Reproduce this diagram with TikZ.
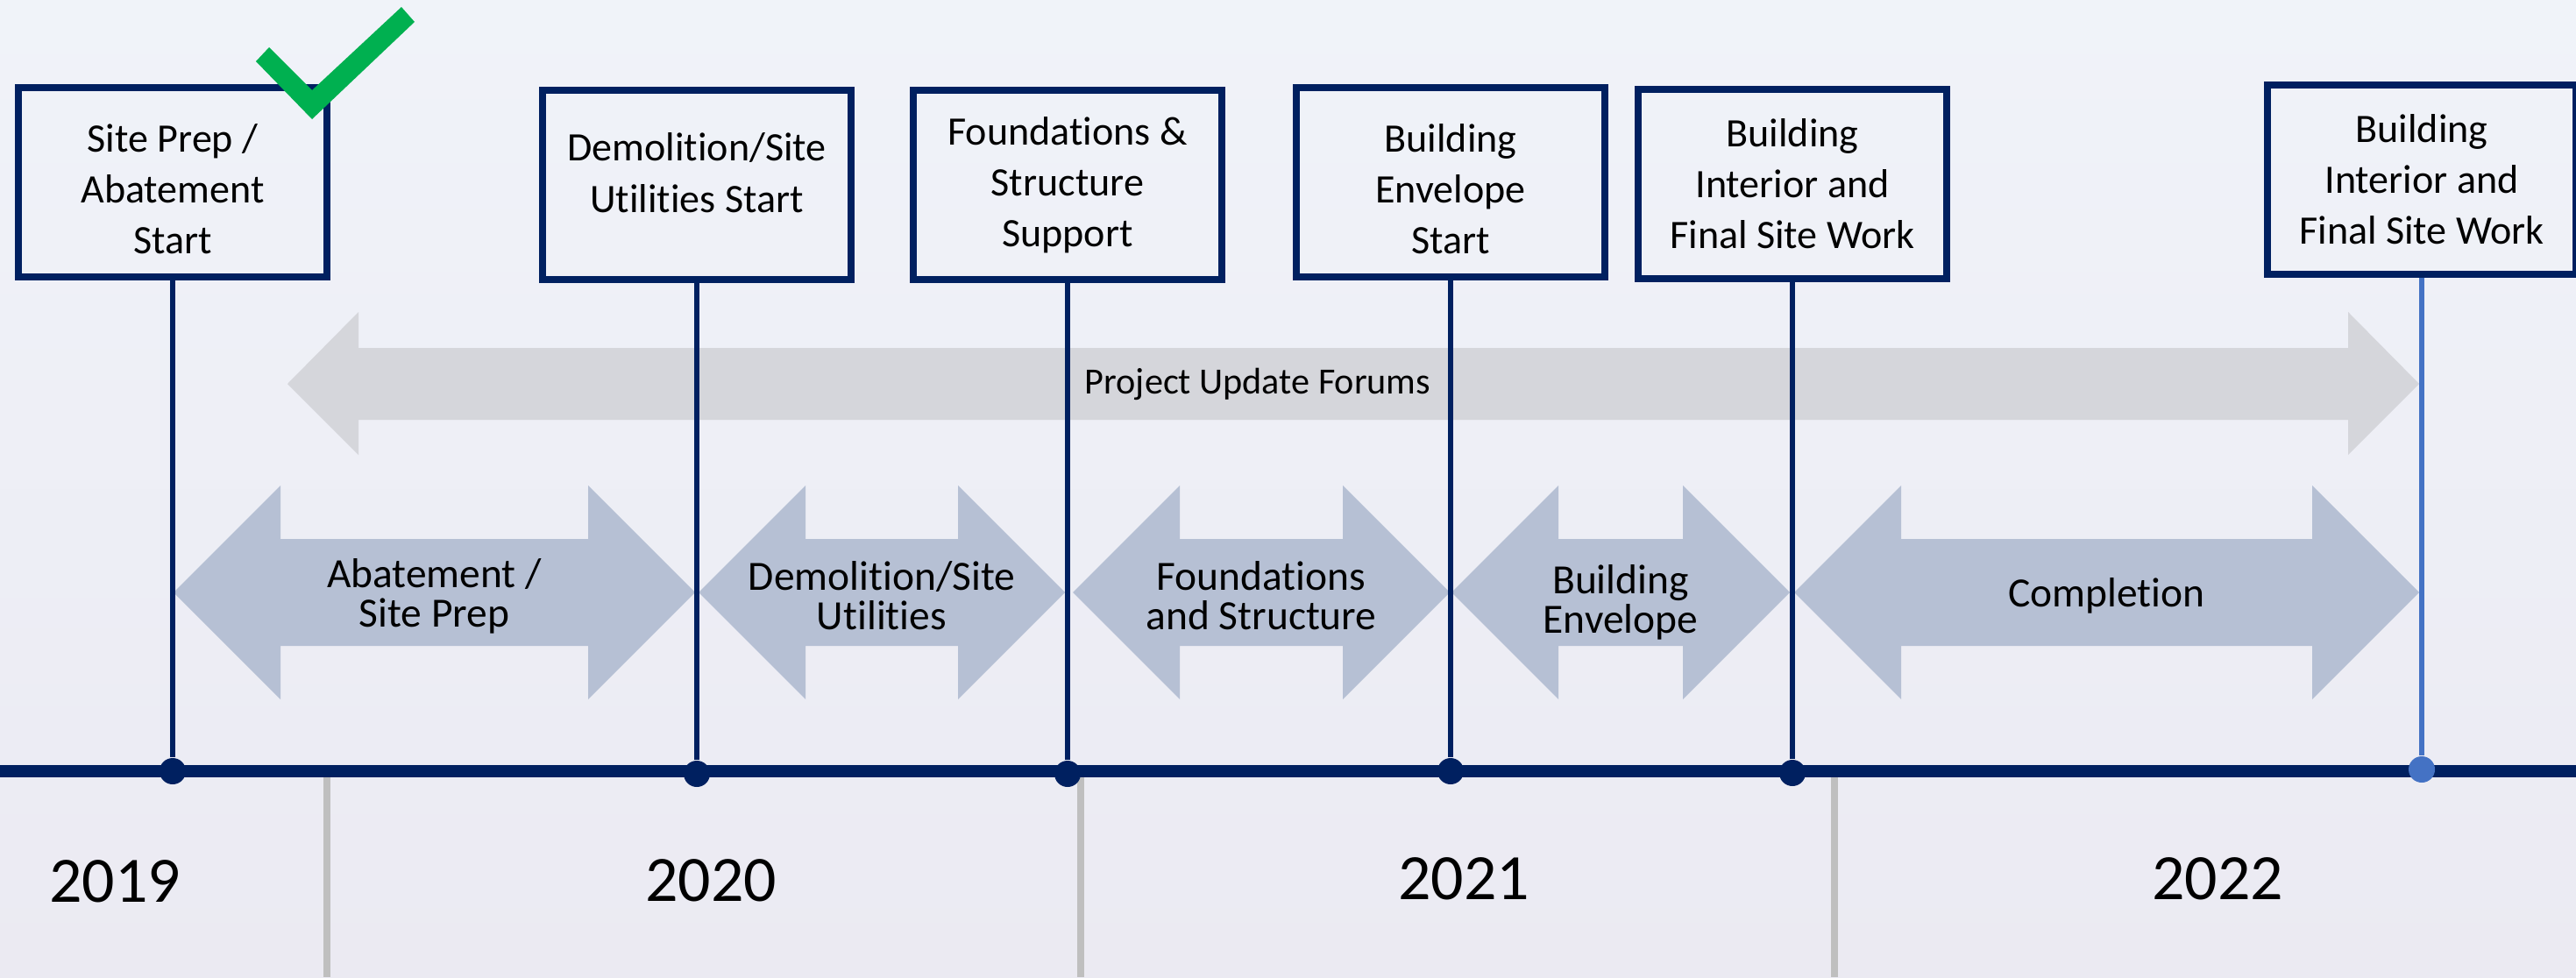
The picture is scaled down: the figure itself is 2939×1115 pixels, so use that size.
\documentclass[tikz,border=0pt]{standalone}
\usepackage{fontspec}
\setmainfont{Carlito}[Ligatures={NoCommon}]
\usetikzlibrary{positioning}
\definecolor{navy}{HTML}{002060}
\definecolor{lightblue}{HTML}{4472C4}
\definecolor{checkgreen}{HTML}{00B050}
\definecolor{phasecol}{RGB}{182,192,212}
\definecolor{forumcol}{RGB}{213,214,219}
\definecolor{divgray}{HTML}{BFBFBF}
\definecolor{bgtop}{RGB}{240,243,249}
\definecolor{bgbot}{RGB}{235,234,242}

\begin{document}
\begin{tikzpicture}[x=0.01cm, y=-0.01cm,
    milestone/.style={draw=navy, line width=0.08cm, minimum width=3.52cm, minimum height=2.15cm,
        inner sep=0pt, align=center, font=\fontsize{13.1pt}{16.5pt}\selectfont},
    stem/.style={navy, line width=0.06cm},
    dot/.style={circle, fill=navy, minimum size=0.3cm, inner sep=0pt},
    phasetext/.style={align=center, inner sep=0pt, font=\fontsize{13.5pt}{12.8pt}\selectfont},
    forumtext/.style={inner sep=0pt, font=\fontsize{12pt}{14pt}\selectfont},
    yearlbl/.style={inner sep=0pt, font=\fontsize{21pt}{25pt}\selectfont},
    divider/.style={divgray, line width=0.08cm}]
        % sfondo
        \useasboundingbox (0,0) rectangle (2939,1115);
        \shade[top color=bgtop, bottom color=bgbot] (0,0) rectangle (2939,1115);

        % freccia forum
        \fill[forumcol] (328,438) -- (409,356) -- (409,397) -- (2679,397) -- (2679,356) -- (2760,438)
            -- (2679,519) -- (2679,479) -- (409,479) -- (409,519) -- cycle;
        \node[forumtext] (forum) at (1435,438) {Project Update Forums};

        % fasi
        \foreach \a/\b/\ty/\nm/\txt in {198/793/680/abate/{Abatement /\\Site Prep},
                797/1215/680/demo/{Demolition/Site\\Utilities},
                1224/1654/680/found/{Foundations\\and Structure},
                1656/2042/687/env/{Building\\Envelope},
                2047/2760/680/compl/{Completion}}
        {
            \fill[phasecol] (\a,676) -- (\a+122,554) -- (\a+122,615) -- (\b-122,615) -- (\b-122,554) -- (\b,676)
                -- (\b-122,798) -- (\b-122,737) -- (\a+122,737) -- (\a+122,798) -- cycle;
            \node[phasetext] (\nm) at ({(\a+\b)/2},\ty) {\txt};
        }

        % anni
        \draw[divider] (373,887) -- (373,1115);
        \draw[divider] (1233,887) -- (1233,1115);
        \draw[divider] (2093,887) -- (2093,1115);
        \node[yearlbl] (y2019) at (131,1006) {2019};
        \node[yearlbl] (y2020) at (811,1005) {2020};
        \node[yearlbl] (y2021) at (1670,1003) {2021};
        \node[yearlbl] (y2022) at (2530,1003) {2022};

        % linea del tempo
        \coordinate (tlstart) at (0,880);
        \coordinate (tlend) at (2939,880);
        \draw[navy, line width=0.14cm] (tlstart) -- (tlend);

        % milestone
        \node[milestone] (ms1) at (197,208) {\rule{0pt}{0.48cm}Site Prep /\\Abatement\\Start};
        \node[milestone] (ms2) at (795,211) {Demolition/Site\\Utilities Start\\[-0.3cm]\mbox{}};
        \node[milestone] (ms3) at (1218,211) {Foundations \&\\Structure\\Support};
        \node[milestone] (ms4) at (1655,208) {\rule{0pt}{0.48cm}Building\\Envelope\\Start};
        \node[milestone] (ms5) at (2045,210) {Building\\Interior and\\Final Site Work};
        \node[milestone] (ms6) at (2763,205) {Building\\Interior and\\Final Site Work};

        \node[dot] (d1) at (197,880) {};
        \node[dot] (d2) at (795,883) {};
        \node[dot] (d3) at (1218,883) {};
        \node[dot] (d4) at (1655,880) {};
        \node[dot] (d5) at (2045,882) {};
        \node[dot, fill=lightblue] (d6) at (2763,878) {};

        \draw[stem] (ms1) -- (d1);
        \draw[stem] (ms2) -- (d2);
        \draw[stem] (ms3) -- (d3);
        \draw[stem] (ms4) -- (d4);
        \draw[stem] (ms5) -- (d5);
        \draw[stem, lightblue] (ms6) -- (d6);

        % spunta
        \fill[checkgreen] (292,70) -- (356,136) -- (473,25) -- (458,8) -- (356,103) -- (307,54) -- cycle;
    \end{tikzpicture}
\end{document}
